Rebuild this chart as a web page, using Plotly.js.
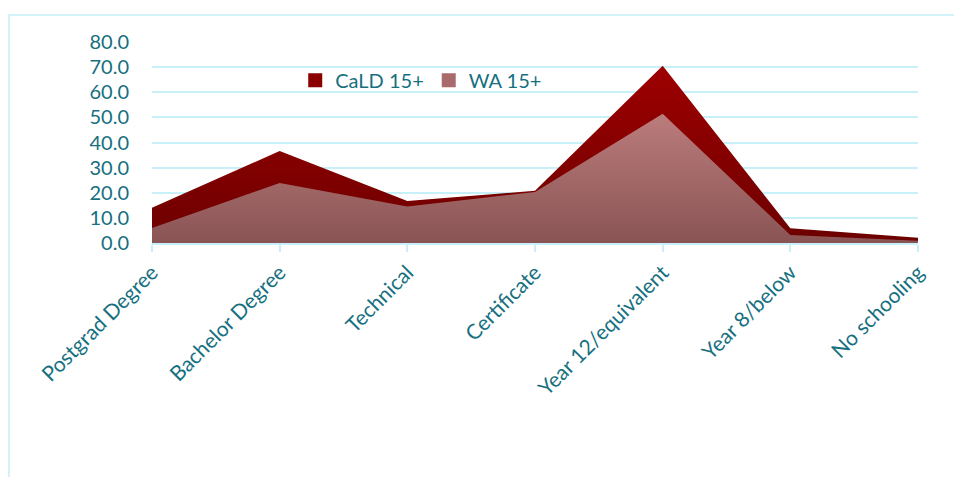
<!DOCTYPE html>
<html>
<head>
<meta charset="utf-8">
<script src="https://cdn.plot.ly/plotly-3.0.1.min.js"></script>
<style>
html,body{margin:0;padding:0;background:#fff;}
#wrap{position:relative;width:954px;height:477px;overflow:hidden;}
#frame{position:absolute;left:8px;top:14px;width:960px;height:480px;border:2px solid #d4f3f9;box-sizing:border-box;}
#chart{position:absolute;left:0;top:0;width:954px;height:477px;}
</style>
</head>
<body>
<div id="wrap"><div id="frame"></div><div id="chart"></div></div>
<script>
const categories = ["Postgrad Degree","Bachelor Degree","Technical","Certificate","Year 12/equivalent","Year 8/below","No schooling"];
const caldValues = [14.0, 36.6, 16.7, 20.8, 70.5, 5.9, 2.1];
const waValues = [6.0, 23.9, 14.5, 20.3, 51.4, 3.2, 0.9];
const seriesNames = ["CaLD 15+", "WA 15+"];
const yTicks = [0,10,20,30,40,50,60,70,80];

const teal = '#16707f';
const grid = '#c8f0f8';

const traces = [
  {x: categories, y: caldValues, type:'scatter', mode:'lines', fill:'tozeroy',
   line:{width:0, color:'#8b0000'}, showlegend:false, hoverinfo:'skip',
   fillgradient:{type:'vertical', start:0, stop:Math.max(...caldValues),
     colorscale:[[0,'#6c0000'],[1,'#9e0000']]}},
  {x: categories, y: waValues, type:'scatter', mode:'lines', fill:'tozeroy',
   line:{width:0, color:'#a06060'}, showlegend:false, hoverinfo:'skip',
   fillgradient:{type:'vertical', start:0, stop:Math.max(...waValues),
     colorscale:[[0,'#8a5454'],[1,'#bb7c7c']]}},
  {x:[null], y:[null], type:'scatter', mode:'markers', name: seriesNames[0],
   marker:{symbol:'square', size:14, color:'#8a0000'}},
  {x:[null], y:[null], type:'scatter', mode:'markers', name: seriesNames[1],
   marker:{symbol:'square', size:14, color:'#a86a6a'}}
];

const layout = {
  width:954, height:477,
  margin:{l:152, r:36, t:42, b:234},
  paper_bgcolor:'rgba(0,0,0,0)', plot_bgcolor:'rgba(0,0,0,0)',
  font:{family:'Lato, "Open Sans", sans-serif', size:20, color:teal},
  showlegend:true,
  legend:{orientation:'h', x:0.187, y:0.81, xanchor:'left', yanchor:'middle',
    font:{size:20, color:teal}, bgcolor:'rgba(0,0,0,0)', itemwidth:30, tracegroupgap:0},
  xaxis:{type:'category', categoryorder:'array', categoryarray:categories,
    range:[0, categories.length-1], showgrid:false, zeroline:false,
    showline:true, linecolor:grid, linewidth:2,
    ticks:'outside', ticklen:7, tickwidth:2, tickcolor:grid,
    tickangle:-45, tickfont:{size:21, color:teal}},
  yaxis:{range:[0,80], tickvals:yTicks, tickformat:'.1f',
    showgrid:true, gridcolor:grid, gridwidth:2, zeroline:false, showline:false,
    ticks:'', ticklabelstandoff:22, tickfont:{size:20, color:teal}},
};

Plotly.newPlot('chart', traces, layout, {displayModeBar:false, staticPlot:true});
</script>
</body>
</html>
